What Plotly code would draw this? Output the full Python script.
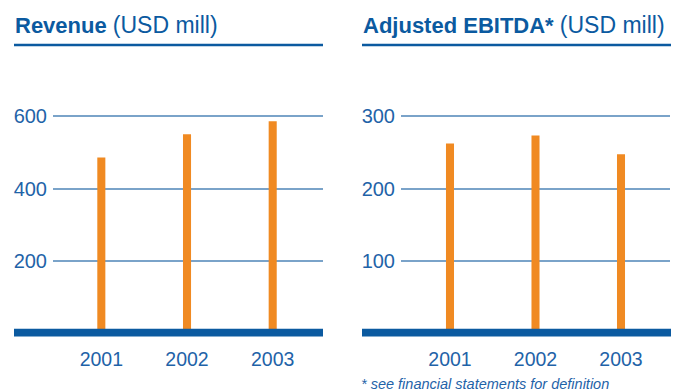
import plotly.graph_objects as go

# Data
years = ["2001", "2002", "2003"]
revenue = [485, 549, 585]
ebitda = [262, 273, 247]
revenue_ticks = [200, 400, 600]
ebitda_ticks = [100, 200, 300]

W, H = 690, 392
BLUE = "#0b5aa0"
GRID = "#7aa3c9"
TEXT = "#1f63a8"
ORANGE = "#f08a22"
FONT = "Liberation Sans, Arial, sans-serif"


def px(x):
    return x / W


def py(y):
    return (H - y) / H


fig = go.Figure()
fig.add_trace(go.Bar(x=years, y=revenue, xaxis="x", yaxis="y",
                     marker=dict(color=ORANGE, line=dict(width=0)), width=0.094))
fig.add_trace(go.Bar(x=years, y=ebitda, xaxis="x2", yaxis="y2",
                     marker=dict(color=ORANGE, line=dict(width=0)), width=0.094))

ydom = [py(333.7), py(105.5)]
common_y = dict(showgrid=True, gridcolor=GRID, gridwidth=1.5, zeroline=False,
                showline=False, ticks="", tickfont=dict(size=20, color=TEXT, family=FONT),
                ticklabelstandoff=5, fixedrange=True)
common_x = dict(type="category", showgrid=False, zeroline=False, showline=False, ticks="",
                tickfont=dict(size=19.5, color=TEXT, family=FONT), ticklabelstandoff=11)

fig.update_layout(
    width=W, height=H,
    margin=dict(l=0, r=0, t=0, b=0),
    paper_bgcolor="white", plot_bgcolor="white",
    showlegend=False,
    font=dict(family=FONT, color=TEXT),
    xaxis=dict(domain=[px(53), px(323)], range=[-0.564, 2.587], anchor="y", **common_x),
    yaxis=dict(domain=ydom, range=[0, 620], tickvals=revenue_ticks, anchor="x", **common_y),
    xaxis2=dict(domain=[px(401), px(670)], range=[-0.573, 2.573], anchor="y2", **common_x),
    yaxis2=dict(domain=ydom, range=[0, 310], tickvals=ebitda_ticks, anchor="x2", **common_y),
)

# Heavy baselines and title rules
for x0, x1 in [(14, 323), (362, 671)]:
    fig.add_shape(type="rect", xref="paper", yref="paper",
                  x0=px(x0), x1=px(x1), y0=py(336), y1=py(328),
                  fillcolor=BLUE, line=dict(width=0), layer="above")
    fig.add_shape(type="line", xref="paper", yref="paper",
                  x0=px(x0), x1=px(x1), y0=py(41.5), y1=py(41.5),
                  line=dict(color=BLUE, width=2.5))

# Titles
titles = [
    (13, "<b>Revenue</b> <span style='font-size:23px'>(USD mill)</span>"),
    (361, "<b>Adjusted EBITDA*</b> <span style='font-size:23px'>(USD mill)</span>"),
]
for x, txt in titles:
    fig.add_annotation(text=txt, xref="paper", yref="paper", x=px(x), y=py(21),
                       xanchor="left", yanchor="middle", showarrow=False,
                       font=dict(size=22, color=BLUE, family=FONT))

fig.add_annotation(text="<i>* see financial statements for definition</i>",
                   xref="paper", yref="paper", x=px(359), y=py(384),
                   xanchor="left", yanchor="middle", showarrow=False,
                   font=dict(size=14.5, color=TEXT, family=FONT))

fig.write_html("out.html")
